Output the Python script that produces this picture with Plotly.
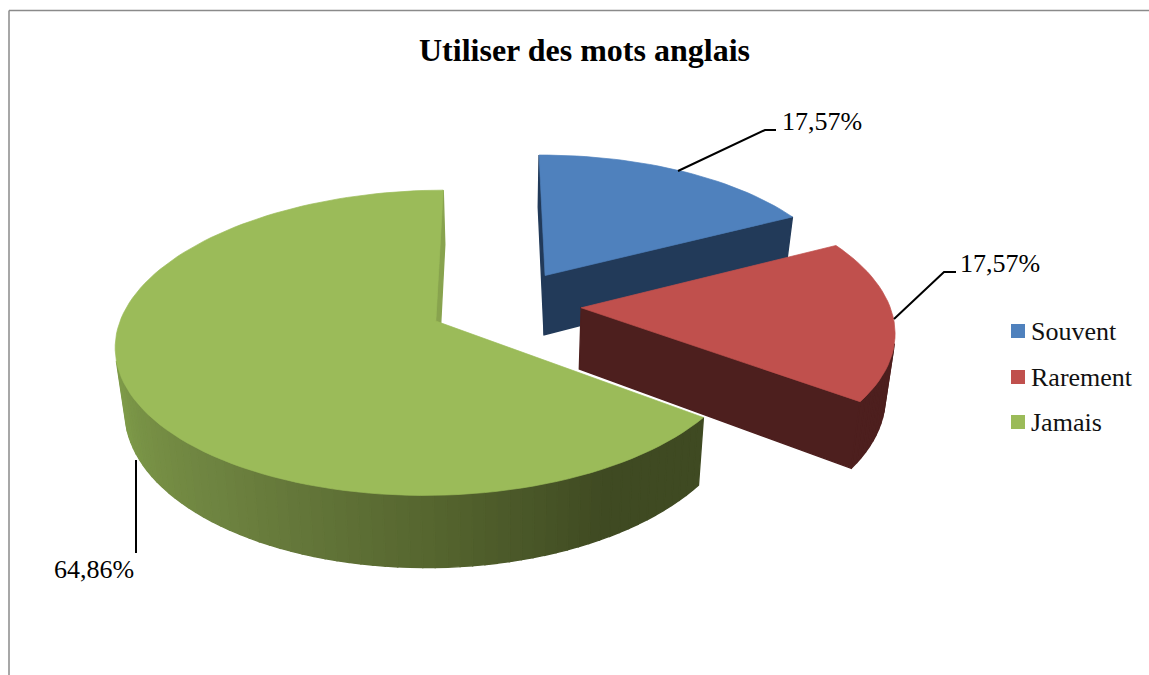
import math
import plotly.graph_objects as go

title = 'Utiliser des mots anglais'
categories = ['Souvent', 'Rarement', 'Jamais']
shares = [17.57, 17.57, 64.86]
labels = ['17,57%', '17,57%', '64,86%']

top_colors = ['#4F81BD', '#C0504D', '#9BBB59']
side_colors = ['#223A59', '#4D1F1E', '#3F4A22']
green_angles = [126, 150, 180, 215, 250, 285, 360]
green_stops = ['#3F4A22', '#3F4A22', '#56662F', '#6D8240', '#7D9948', '#88A34E', '#88A34E']

# fake 3d pie: perspective fitted on the picture (pixels)
cx, cy = 506.5, 305
scale_x, scale_y = 312, 145
persp = 0.14
skew = 0.008
depth = 61
shrink = 0.025
rotation = -0.3
explode = [0.245, 0.24, 0.24]
explode_x = [0.245, 0.24, 0.25]
radius_x = [0.99, 1.0, 0.985]

page_w, page_h = 1149, 675


def project(x, y, z):
    w = 1 + persp * y
    return (cx + scale_x * x / (w + skew * x) * (1 - shrink * z), cy - scale_y * y / w + depth * z / w)


def shade(theta):
    for i in range(len(green_angles) - 1):
        if theta <= green_angles[i + 1]:
            t = (theta - green_angles[i]) / (green_angles[i + 1] - green_angles[i])
            a, b = green_stops[i], green_stops[i + 1]
            rgb = [round(int(a[j:j + 2], 16) * (1 - t) + int(b[j:j + 2], 16) * t) for j in (1, 3, 5)]
            return 'rgb(%d,%d,%d)' % tuple(rgb)
    return green_stops[-1]


def polygon(points, color, width=0.7):
    return go.Scatter(
        x=[p[0] for p in points] + [points[0][0]],
        y=[p[1] for p in points] + [points[0][1]],
        mode='lines',
        fill='toself',
        fillcolor=color,
        line=dict(color=color, width=width),
        hoverinfo='skip',
        showlegend=False,
    )


def visible(p):
    area = sum(p[i][0] * p[(i + 1) % 4][1] - p[(i + 1) % 4][0] * p[i][1] for i in range(4))
    return area < 0


fig = go.Figure()

start = rotation
for i, share in enumerate(shares):
    sweep = share * 3.6
    end = start + sweep
    mid = math.radians(start + sweep / 2)
    ox, oy = explode_x[i] * math.sin(mid), explode[i] * math.cos(mid)

    n = max(2, int(sweep / 2))
    angles = [start + sweep * j / n for j in range(n + 1)]
    rim = [(ox + radius_x[i] * math.sin(math.radians(t)), oy + math.cos(math.radians(t))) for t in angles]
    outline = [(ox, oy)] + rim

    # sides first, only those facing us
    for j in range(len(outline)):
        a, b = outline[j], outline[(j + 1) % len(outline)]
        quad = [project(a[0], a[1], 0), project(b[0], b[1], 0), project(b[0], b[1], 1), project(a[0], a[1], 1)]
        if visible(quad):
            if i == 2:
                is_rim = 0 < j < len(outline) - 1
                color = shade(angles[j - 1] + sweep / n / 2) if is_rim else shade(126 if j == 0 else 360)
            else:
                color = side_colors[i]
            fig.add_trace(polygon(quad, color, 1.4))

    fig.add_trace(polygon([project(p[0], p[1], 0) for p in outline], top_colors[i]))
    start = end

# legend swatches with their text
legend_x = 1018
legend_text_x = 1029
legend_y = [331, 377, 422]
for i, name in enumerate(categories):
    fig.add_trace(go.Scatter(
        x=[legend_x], y=[legend_y[i]], mode='markers', name=name,
        marker=dict(symbol='square', size=14, color=top_colors[i]),
        hoverinfo='skip', showlegend=False,
    ))
    fig.add_annotation(x=legend_text_x, y=legend_y[i], text=name, showarrow=False, xanchor='left',
                       font=dict(family='Liberation Serif', size=26, color='#111111'))

# leader lines
leaders = [
    ([678, 765, 776], [171, 130, 130]),
    ([894, 944, 956], [319, 272, 272]),
    ([136, 136], [460, 553]),
]
for lx, ly in leaders:
    fig.add_trace(go.Scatter(x=lx, y=ly, mode='lines', line=dict(color='black', width=2),
                             hoverinfo='skip', showlegend=False))

label_pos = [(822, 121), (1000, 263), (94, 569)]
for text, (lx, ly) in zip(labels, label_pos):
    fig.add_annotation(x=lx, y=ly, text=text, showarrow=False,
                       font=dict(family='Liberation Serif', size=26, color='black'))

# chart frame, top and left only show in the picture
fig.add_shape(type='line', x0=9, x1=1149, y0=10.5, y1=10.5, line=dict(color='#8A8A8A', width=1.5))
fig.add_shape(type='line', x0=9, x1=9, y0=10.5, y1=675, line=dict(color='#8A8A8A', width=1.5))

fig.add_annotation(x=584.5, y=50, text='<b>' + title + '</b>', showarrow=False,
                   font=dict(family='Liberation Serif', size=32, color='black'))

fig.update_layout(
    width=page_w,
    height=page_h,
    margin=dict(l=0, r=0, t=0, b=0),
    paper_bgcolor='white',
    plot_bgcolor='white',
    showlegend=False,
    xaxis=dict(range=[0, page_w], visible=False, fixedrange=True),
    yaxis=dict(range=[page_h, 0], visible=False, fixedrange=True),
)

# page body margin would push the figure by 8px
fig.write_html('out.html', config={'displayModeBar': False},
               post_script="document.body.style.margin='0';document.documentElement.style.overflow='hidden';")
